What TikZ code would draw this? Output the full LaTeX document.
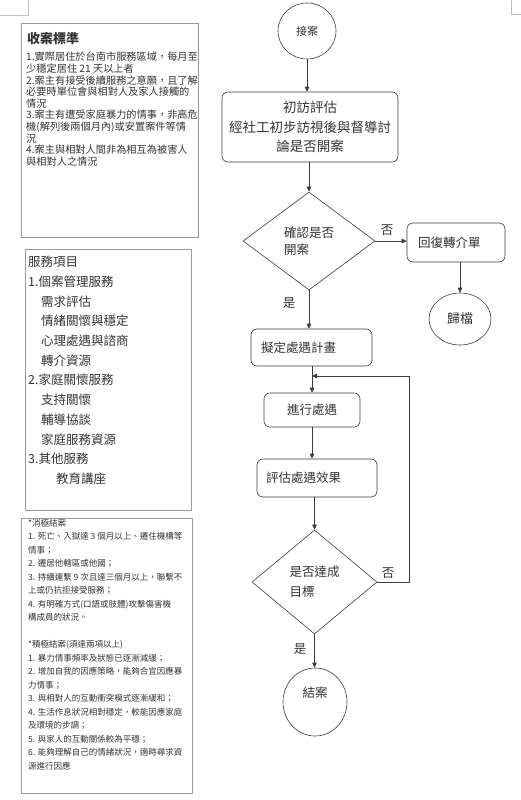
\documentclass[tikz,border=0pt]{standalone}
\usepackage{fontspec}
\setmainfont{Noto Sans CJK TC}
\usepackage{xcolor}
\usetikzlibrary{positioning,arrows.meta,shapes.geometric,calc}
\definecolor{LineDark}{HTML}{3A3A3A}
\definecolor{TextDark}{HTML}{333333}
\definecolor{FrameGray}{HTML}{9A9A9A}

\begin{document}
\begin{tikzpicture}[x=1pt,y=-1pt,
    every node/.style={text=TextDark, inner sep=0pt, font=\fontsize{12.5}{15}\selectfont},
    ar/.style={-{Triangle[length=5pt,width=4.5pt]},thick,LineDark},
    frame/.style={draw=FrameGray, semithick},
    flow/.style={draw=LineDark, semithick},
    rbox/.style={flow, rounded corners=6pt}]
  \useasboundingbox (0,0) rectangle (521,800);
  % page corner marks
  \draw[black!25] (0,15) -- (28,15) -- (28,0);
  \draw[black!25] (511,0) -- (511,14) -- (521,14);

  % left column
  \node[frame, minimum width=177, minimum height=214] (crit) at (109.5,130) {};
  \node[frame, minimum width=166, minimum height=261] (serv) at (108,379.5) {};
  \node[frame, minimum width=171, minimum height=275] (close) at (106.5,655.5) {};

  \node[anchor=north west, font=\fontsize{13}{15}\selectfont\bfseries] (critT) at (27,32) {收案標準};
  \node[anchor=north west, align=left, font=\fontsize{10.2}{11.6}\selectfont] (critB) at (26,52)
  {1.實際居住於台南市服務區域，每月至\\
    少穩定居住 21 天以上者\\
    2.案主有接受後續服務之意願，且了解\\
    必要時單位會與相對人及家人接觸的\\
    情況\\
    3.案主有遭受家庭暴力的情事，非高危\\
    機(解列後兩個月內)或安置案件等情\\
    況\\
    4.案主與相對人間非為相互為被害人\\
    與相對人之情況};
  \node[anchor=north west, align=left, font=\fontsize{12.5}{19.7}\selectfont] (servT) at (28,256)
  {服務項目\\
    1.個案管理服務\\
    \hspace*{13pt}需求評估\\
    \hspace*{13pt}情緒關懷與穩定\\
    \hspace*{13pt}心理處遇與諮商\\
    \hspace*{13pt}轉介資源\\
    2.家庭關懷服務\\
    \hspace*{13pt}支持關懷\\
    \hspace*{13pt}輔導協談\\
    \hspace*{13pt}家庭服務資源\\
    3.其他服務\\
    \hspace*{28pt}教育講座};
  \node[anchor=north west, align=left, font=\fontsize{8.5}{13.5}\selectfont] (closeT) at (28,519)
  {*消極結案\\
    1. 死亡、入獄達 3 個月以上、遷住機構等\\
    情事；\\
    2. 遷居他轄區或他國；\\
    3. 持續連繫 9 次且達三個月以上，聯繫不\\
    上或仍抗拒接受服務；\\
    4. 有明確方式(口語或肢體)攻擊傷害機\\
    構成員的狀況。\\[13.5pt]
    *積極結案(須達兩項以上)\\
    1. 暴力情事頻率及狀態已逐漸減緩；\\
    2. 增加自我的因應策略，能夠合宜因應暴\\
    力情事；\\
    3. 與相對人的互動衝突模式逐漸緩和；\\
    4. 生活作息狀況相對穩定，較能因應家庭\\
    及環境的步調；\\
    5. 與家人的互動關係較為平穩；\\
    6. 能夠理解自己的情緒狀況，適時尋求資\\
    源進行因應};

  % flow chart
  \node[flow, ellipse, minimum width=58, minimum height=56, font=\fontsize{11}{13}\selectfont] (start) at (307,31) {接案};
  \node[rbox, minimum width=176, minimum height=70, align=center, font=\fontsize{13.5}{19.5}\selectfont] (visit) at (310,127)
  {初訪評估\\經社工初步訪視後與督導討\\論是否開案};
  \node[flow, diamond, minimum width=132, minimum height=98, align=left, font=\fontsize{12.5}{17}\selectfont] (open) at (309,241) {確認是否\\開案};
  \node[rbox, minimum width=98, minimum height=39, text width=76, inner xsep=11, align=left] (reply) at (456,242.5) {回復轉介單};
  \node[flow, ellipse, minimum width=62, minimum height=52, font=\fontsize{13}{15}\selectfont] (file) at (460,319) {歸檔};
  \node[rbox, minimum width=121, minimum height=37, text width=101, inner xsep=10, align=left] (plan) at (311.5,347.5) {擬定處遇計畫};
  \node[rbox, minimum width=96, minimum height=34] (act) at (312,410) {進行處遇};
  \node[rbox, minimum width=120, minimum height=38, text width=102, inner xsep=9, align=left] (eval) at (317,478) {評估處遇效果};
  \node[flow, diamond, minimum width=125, minimum height=104, align=left, font=\fontsize{12.5}{20}\selectfont] (goal) at (314.5,582) {是否達成\\目標};
  \node[flow, ellipse, minimum width=64, minimum height=68, text depth=20pt] (done) at (315,702) {結案};

  \node (no1) at (387,230) {否};
  \node (yes1) at (289,303) {是};
  \node (no2) at (388,573) {否};
  \node (yes2) at (300,649) {是};
  \coordinate (back) at (409,376);

  \draw[ar] (start) -- (start |- visit.north);
  \draw[ar] (open |- visit.south) -- (open.north);
  \draw[ar] (open.east) -- (open.east -| reply.west);
  \draw[ar] (file |- reply.south) -- (file.north);
  \draw[ar] (open.south) -- (open.south |- plan.north);
  \draw[ar] (act |- plan.south) -- (act.north);
  \draw[ar] (act.south) -- (act.south |- eval.north);
  \draw[ar] (goal |- eval.south) -- (goal.north);
  \draw[ar] (goal.south) -- (goal.south |- done.north);
  \draw[ar] (goal.east) -| (back) -- (back -| act.north);
\end{tikzpicture}
\end{document}
